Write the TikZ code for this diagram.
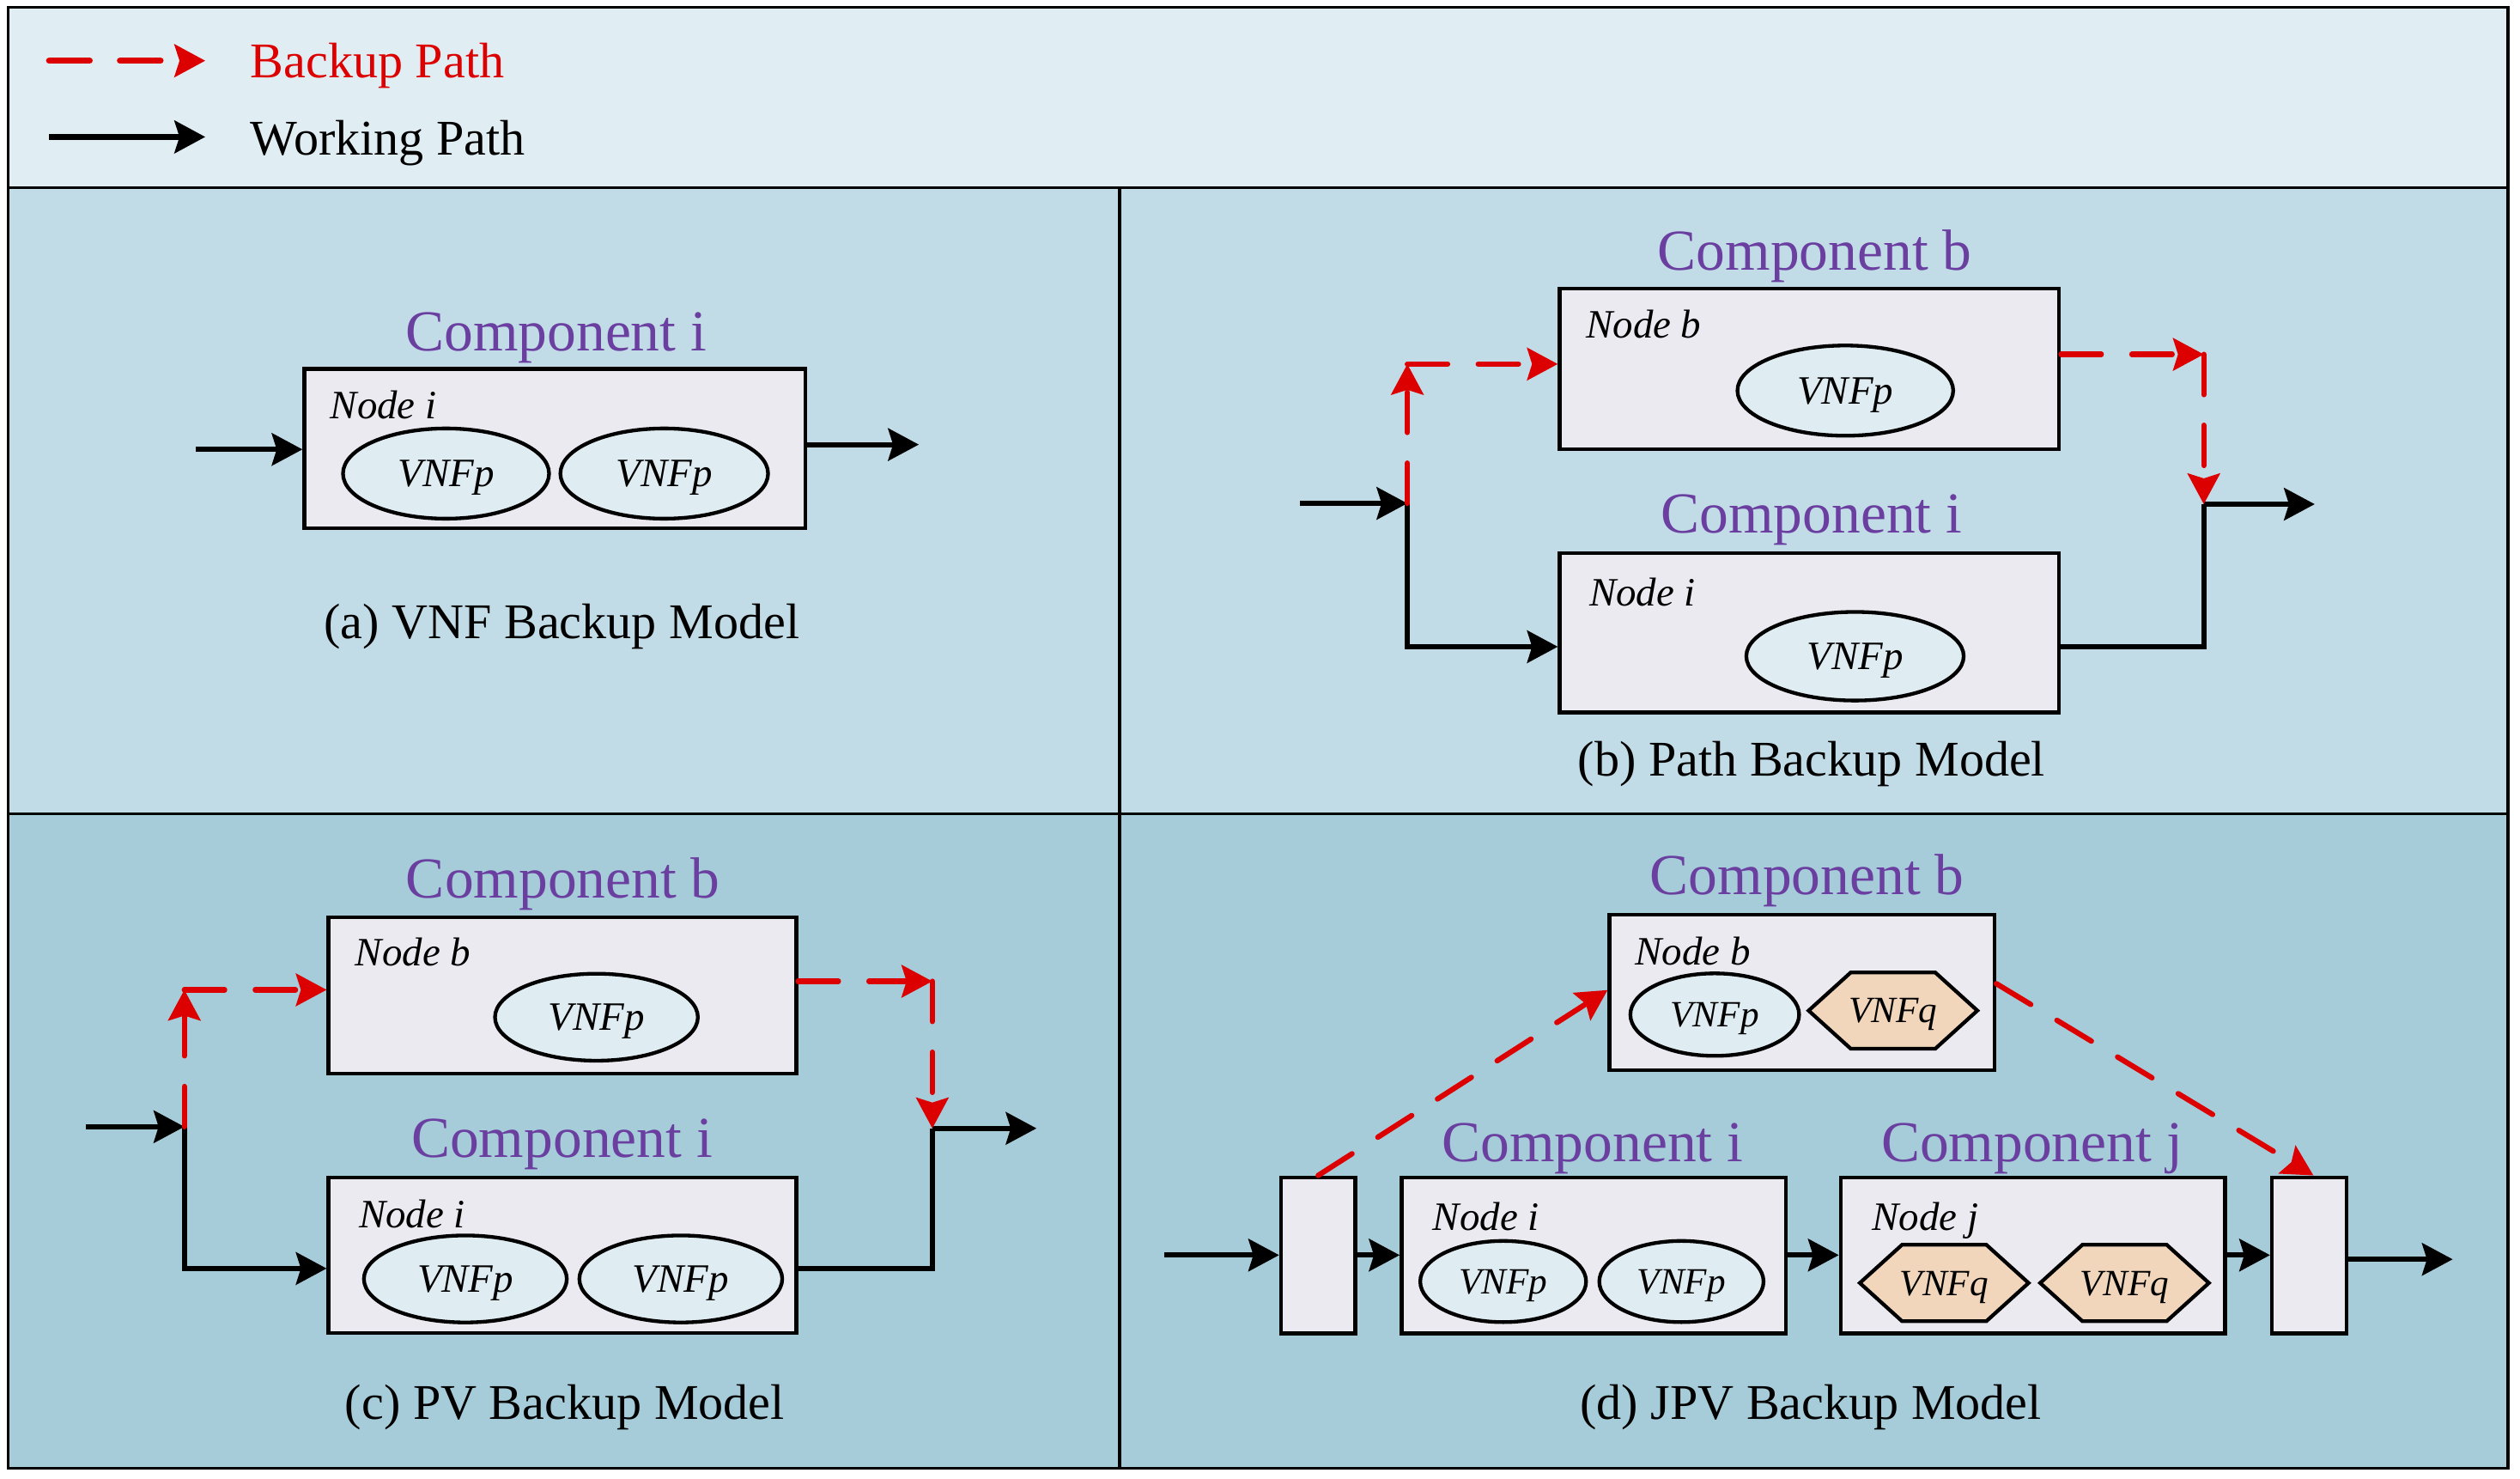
\documentclass[tikz,border=0pt]{standalone}
\usepackage{fontspec}
\setmainfont{Liberation Serif}
\usetikzlibrary{arrows.meta,shapes.geometric}
\definecolor{legendbg}{HTML}{E0EDF3}
\definecolor{topbg}{HTML}{C2DCE7}
\definecolor{botbg}{HTML}{A6CCDA}
\definecolor{boxfill}{HTML}{ECEAF1}
\definecolor{ellfill}{HTML}{DFEDF3}
\definecolor{hexfill}{HTML}{F2D6BB}
\definecolor{compcol}{HTML}{6A3FA0}
\definecolor{redcol}{HTML}{DD0000}
\tikzset{
  frameline/.style={line width=1.8pt, draw=black},
  compl/.style={font=\fontsize{36}{40}\selectfont, text=compcol, anchor=base, inner sep=0pt},
  nodelbl/.style={font=\fontsize{25}{28}\selectfont\itshape, anchor=base west, inner sep=0pt},
  caplbl/.style={font=\fontsize{31}{34}\selectfont, anchor=base, inner sep=0pt},
  legendlbl/.style={font=\fontsize{31}{34}\selectfont, anchor=base west, inner sep=0pt},
  cbox/.style={rectangle, draw=black, line width=2.3pt, fill=boxfill, inner sep=0pt},
  vnfell/.style={ellipse, draw=black, line width=2.3pt, fill=ellfill, inner sep=0pt,
     font=\fontsize{25}{28}\selectfont\itshape, text height=16.5pt, text depth=0pt},
  vnfsmall/.style={vnfell, font=\fontsize{23}{26}\selectfont\itshape, text height=15.2pt},
  hexline/.style={draw=black, line width=2.3pt, fill=hexfill, line join=miter},
  hextext/.style={rectangle, inner sep=0pt, font=\fontsize{23}{26}\selectfont\itshape,
     text height=15.2pt, text depth=0pt},
  tipw/.style={-{Stealth[length=19pt, width=20pt, inset=3pt]}},
  work/.style={line width=3.3pt, draw=black, tipw},
  workline/.style={line width=3.3pt, draw=black},
  backup/.style={line width=3.3pt, draw=redcol, line cap=round,
     dash pattern=on 25pt off 19pt, -{Stealth[length=19pt, width=20pt, inset=3pt, line cap=butt, color=redcol]}},
}
\newcommand{\hexvnf}[4]{%
  \coordinate (#1c) at (#2,#3);
  \filldraw[hexline] ([xshift=-52.4pt]#1c) -- ([xshift=-26.2pt,yshift=23.7pt]#1c)
     -- ([xshift=26.2pt,yshift=23.7pt]#1c) -- ([xshift=52.4pt]#1c)
     -- ([xshift=26.2pt,yshift=-23.7pt]#1c) -- ([xshift=-26.2pt,yshift=-23.7pt]#1c) -- cycle;
  \node[hextext] (#1) at (#1c) {#4};}
\begin{document}
\begin{tikzpicture}[x=1pt,y=-1pt]
\useasboundingbox (0,0) rectangle (1565,918.2);
\fill[white] (0,0) rectangle (1565,918.2);
% backgrounds
\fill[legendbg] (5,4.5) rectangle (1557.5,116.4);
\fill[topbg] (5,116.4) rectangle (1557.5,505.1);
\fill[botbg] (5,505.1) rectangle (1557.5,911.5);
\draw[frameline] (5,4.5) rectangle (1557.5,911.5);
\draw[frameline] (5,116.4) -- (1557.5,116.4);
\draw[frameline] (5,505.1) -- (1557.5,505.1);
\draw[frameline] (695.3,116.4) -- (695.3,911.5);

% legend
\coordinate (lgBs) at (30.6,37.7);
\coordinate (lgBe) at (127.5,37.7);
\coordinate (lgWs) at (30.6,85);
\coordinate (lgWe) at (127.5,85);
\draw[backup, line width=4pt] (lgBs) -- (lgBe);
\draw[work, line width=4pt] (lgWs) -- (lgWe);
\node[legendlbl, text=redcol] (lgBt) at (155.4,48) {Backup Path};
\node[legendlbl] (lgWt) at (155.4,96) {Working Path};

% ---------------- panel (a)
\node[compl] (aComp) at (345.4,217.7) {Component i};
\node[cbox, minimum width=311pt, minimum height=99pt] (aBox) at (344.5,278.5) {};
\node[nodelbl] (aNode) at (205,260) {Node i};
\node[vnfell, minimum width=128pt, minimum height=56pt] (aV1) at (277,294) {VNFp};
\node[vnfell, minimum width=129pt, minimum height=56pt] (aV2) at (412.5,294) {VNFp};
\coordinate (aIn) at (121.5,279);
\coordinate (aOut) at (570.6,276);
\draw[work] (aIn) -- (aIn -| aBox.west);
\draw[work] (aOut -| aBox.east) -- (aOut);
\node[caplbl] (aCap) at (348.9,396.3) {(a) VNF Backup Model};

% ---------------- panel (b)
\node[compl] (bCompB) at (1127,167.6) {Component b};
\node[cbox, minimum width=310.2pt, minimum height=99.4pt] (bB) at (1123.7,229) {};
\node[nodelbl] (bNodeB) at (984.8,209.6) {Node b};
\node[vnfell, minimum width=134pt, minimum height=56pt] (bVb) at (1146,242.5) {VNFp};
\node[compl] (bCompI) at (1125,331) {Component i};
\node[cbox, minimum width=310.2pt, minimum height=99pt] (bI) at (1123.7,392.8) {};
\node[nodelbl] (bNodeI) at (986.9,376) {Node i};
\node[vnfell, minimum width=135pt, minimum height=55pt] (bVi) at (1152,407.4) {VNFp};
\coordinate (bIn) at (807.5,312.5);
\coordinate (bSplit) at (874,312.5);
\coordinate (bUp) at (874,226);
\coordinate (bDn) at (874,401.5);
\coordinate (bR1) at (1368.6,220);
\coordinate (bJoin) at (1368.6,313);
\coordinate (bR2) at (1368.6,401.5);
\coordinate (bOut) at (1437.5,313);
\draw[work] (bIn) -- (bSplit);
\draw[work] (bSplit) -- (bDn) -- (bDn -| bI.west);
\draw[workline] (bR2 -| bI.east) -- (bR2) -- (bJoin);
\draw[work] (bJoin) -- (bOut);
\draw[backup] (bSplit) -- (bUp);
\draw[backup] (bUp) -- (bUp -| bB.west);
\draw[backup] (bR1 -| bB.east) -- (bR1);
\draw[backup] (bR1) -- (bJoin);
\node[caplbl] (bCap) at (1125.1,481.7) {(b) Path Backup Model};

% ---------------- panel (c)
\node[compl] (cCompB) at (349.7,557.6) {Component b};
\node[cbox, minimum width=290.5pt, minimum height=97pt] (cB) at (349.25,618) {};
\node[nodelbl] (cNodeB) at (220.5,599.5) {Node b};
\node[vnfell, minimum width=126pt, minimum height=54pt] (cVb) at (370.4,631.5) {VNFp};
\node[compl] (cCompI) at (349,718.7) {Component i};
\node[cbox, minimum width=290.5pt, minimum height=96.5pt] (cI) at (349.25,779.25) {};
\node[nodelbl] (cNodeI) at (222.7,762) {Node i};
\node[vnfell, minimum width=126pt, minimum height=54pt] (cV1) at (289,794) {VNFp};
\node[vnfell, minimum width=126pt, minimum height=54pt] (cV2) at (422.8,794) {VNFp};
\coordinate (cIn) at (53.5,699.5);
\coordinate (cSplit) at (114.5,699.5);
\coordinate (cUp) at (114.5,614.5);
\coordinate (cDn) at (114.5,787.5);
\coordinate (cR1) at (579,609.2);
\coordinate (cJoin) at (579,700.5);
\coordinate (cR2) at (579,787.5);
\coordinate (cOut) at (643.7,700.5);
\draw[work] (cIn) -- (cSplit);
\draw[work] (cSplit) -- (cDn) -- (cDn -| cI.west);
\draw[workline] (cR2 -| cI.east) -- (cR2) -- (cJoin);
\draw[work] (cJoin) -- (cOut);
\draw[backup] (cSplit) -- (cUp);
\draw[backup] (cUp) -- (cUp -| cB.west);
\draw[backup] (cR1 -| cB.east) -- (cR1);
\draw[backup] (cR1) -- (cJoin);
\node[caplbl] (cCap) at (350.8,881) {(c) PV Backup Model};

% ---------------- panel (d)
\node[compl] (dCompB) at (1122.2,555.3) {Component b};
\node[cbox, minimum width=239.1pt, minimum height=96.7pt] (dB) at (1119.05,616.15) {};
\node[nodelbl] (dNodeB) at (1015.3,599.3) {Node b};
\node[vnfsmall, minimum width=104.8pt, minimum height=51.2pt] (dBv) at (1064.9,629.9) {VNFp};
\hexvnf{dBq}{1175.6}{627.4}{VNFq}
\node[compl] (dCompI) at (989.1,721.3) {Component i};
\node[compl] (dCompJ) at (1261.8,721.3) {Component j};
\node[cbox, minimum width=46.2pt, minimum height=96.9pt] (dL) at (818.6,779.35) {};
\node[cbox, minimum width=238.6pt, minimum height=96.9pt] (dI) at (989.7,779.35) {};
\node[cbox, minimum width=238.7pt, minimum height=96.9pt] (dJ) at (1262.45,779.35) {};
\node[cbox, minimum width=46.2pt, minimum height=96.9pt] (dR) at (1434,779.35) {};
\node[nodelbl] (dNodeI) at (889.7,763.6) {Node i};
\node[nodelbl] (dNodeJ) at (1162.4,763.6) {Node j};
\node[vnfsmall, minimum width=103pt, minimum height=50.4pt] (dIv1) at (933.5,795.6) {VNFp};
\node[vnfsmall, minimum width=102pt, minimum height=50.4pt] (dIv2) at (1044.2,795.6) {VNFp};
\hexvnf{dJq1}{1207.4}{796.5}{VNFq}
\hexvnf{dJq2}{1319.4}{796.5}{VNFq}
\coordinate (dIn) at (723.3,779.2);
\coordinate (dOut) at (1523.2,781.8);
\draw[work] (dIn) -- (dIn -| dL.west);
\draw[work] (dIn -| dL.east) -- (dIn -| dI.west);
\draw[work] (dIn -| dI.east) -- (dIn -| dJ.west);
\draw[work] (dIn -| dJ.east) -- (dIn -| dR.west);
\draw[work] (dOut -| dR.east) -- (dOut);
\draw[backup] (dL.north) -- ([yshift=1.5pt]dB.west);
\draw[backup] ([yshift=5.5pt]dB.east) -- ([xshift=2.7pt]dR.north);
\node[caplbl] (dCap) at (1124.6,881) {(d) JPV Backup Model};
\end{tikzpicture}
\end{document}
